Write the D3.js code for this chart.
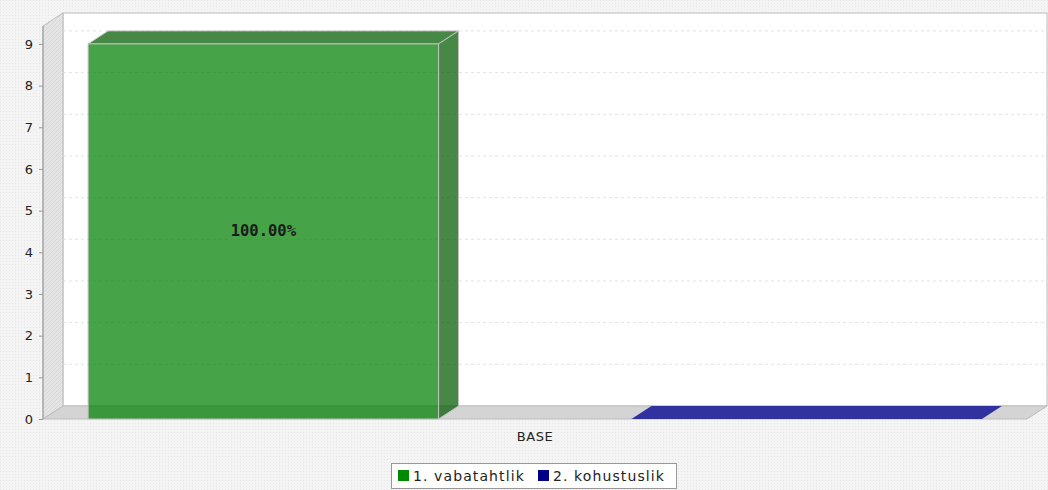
<!DOCTYPE html>
<html>
<head>
<meta charset="utf-8">
<script src="https://cdn.jsdelivr.net/npm/d3@7"></script>
<style>
  body { margin: 0; background: #f3f3f3; }
  svg { display: block; }
  text { font-family: "DejaVu Sans", sans-serif; }
</style>
</head>
<body>
<div id="chart-area"></div>
<script>
// data
var categories = ["BASE"];
var seriesNames = ["1. vabatahtlik", "2. kohustuslik"];
var seriesValues = [9, 0.02];
var valueLabels = ["100.00%", ""];
var yTicks = [0, 1, 2, 3, 4, 5, 6, 7, 8, 9];
var seriesColors = ["#008a00", "#00008b"];
var frontColors = ["rgba(0,128,0,0.72)", "rgba(20,20,150,0.85)"];
var darkColors = ["rgba(0,90,0,0.72)", "rgba(20,20,150,0.85)"];

var W = 1048, H = 490;
var dx = 20, dy = -13;   // 3d offset
var pLeft = 43, pRight = 1027, pTop = 26, pBottom = 419;

var svg = d3.select("#chart-area").append("svg")
            .attr("width", W)
            .attr("height", H);

// dotted background texture
var defs = svg.append("defs");
var pat = defs.append("pattern").attr("id", "dots")
              .attr("width", 3).attr("height", 3)
              .attr("patternUnits", "userSpaceOnUse");
pat.append("rect").attr("width", 3).attr("height", 3).attr("fill", "#f4f4f4");
pat.append("rect").attr("width", 1).attr("height", 1).attr("fill", "#e8e8e8");

var hatch = defs.append("pattern").attr("id", "hatch")
                .attr("width", 4).attr("height", 4)
                .attr("patternUnits", "userSpaceOnUse");
hatch.append("rect").attr("width", 4).attr("height", 4).attr("fill", "#e4e4e4");
hatch.append("path").attr("d", "M0,4 L4,0").attr("stroke", "#d8d8d8").attr("stroke-width", 1);

svg.append("rect").attr("width", W).attr("height", H).attr("fill", "url(#dots)");

var y = d3.scaleLinear()
          .domain([0, 9.43])
          .range([pBottom, pTop]);

var x0 = d3.scaleBand()
           .domain(categories)
           .range([pLeft, pRight]);

var x1 = d3.scaleBand()
           .domain(seriesNames)
           .range([0, x0.bandwidth()])
           .paddingInner(0.355)
           .paddingOuter(0.083);

// back wall
svg.append("rect")
   .attr("x", pLeft + dx).attr("y", pTop + dy)
   .attr("width", pRight - pLeft).attr("height", pBottom - pTop)
   .attr("fill", "#ffffff").attr("stroke", "#bdbdbd");

// left wall
svg.append("path")
   .attr("d", "M" + pLeft + "," + pTop + " L" + (pLeft + dx) + "," + (pTop + dy) +
              " L" + (pLeft + dx) + "," + (pBottom + dy) + " L" + pLeft + "," + pBottom + "Z")
   .attr("fill", "url(#hatch)").attr("stroke", "#bdbdbd");

// floor
svg.append("path")
   .attr("d", "M" + pLeft + "," + pBottom + " L" + (pLeft + dx) + "," + (pBottom + dy) +
              " L" + (pRight + dx) + "," + (pBottom + dy) + " L" + pRight + "," + pBottom + "Z")
   .attr("fill", "#d4d4d4").attr("stroke", "#bdbdbd");

// gridlines on the back wall
svg.append("g").selectAll("line")
   .data(yTicks.filter((d) => d > 0))
   .enter().append("line")
   .attr("x1", pLeft + dx).attr("x2", pRight + dx)
   .attr("y1", (d) => y(d) + dy).attr("y2", (d) => y(d) + dy)
   .attr("stroke", "#dcdcdc")
   .attr("stroke-width", 0.8)
   .attr("stroke-dasharray", "3,3");

// bars
var bars = svg.append("g").selectAll("g")
              .data(seriesValues)
              .enter().append("g");

bars.each(function (v, i) {
  var g = d3.select(this);
  var bx = x0(categories[0]) + x1(seriesNames[i]);
  var bw = x1.bandwidth();
  var by = y(v);
  if (pBottom - by < 2) {
    // flat bar: only the top face is visible
    g.append("path")
     .attr("d", "M" + bx + "," + pBottom + " L" + (bx + dx) + "," + (pBottom + dy) +
                " L" + (bx + bw + dx) + "," + (pBottom + dy) + " L" + (bx + bw) + "," + pBottom + "Z")
     .attr("fill", frontColors[i]);
    return;
  }
  // top face
  g.append("path")
   .attr("d", "M" + bx + "," + by + " L" + (bx + dx) + "," + (by + dy) +
              " L" + (bx + bw + dx) + "," + (by + dy) + " L" + (bx + bw) + "," + by + "Z")
   .attr("fill", darkColors[i]).attr("stroke", "#c4c4c4").attr("stroke-width", 1);
  // side face
  g.append("path")
   .attr("d", "M" + (bx + bw) + "," + by + " L" + (bx + bw + dx) + "," + (by + dy) +
              " L" + (bx + bw + dx) + "," + (pBottom + dy) + " L" + (bx + bw) + "," + pBottom + "Z")
   .attr("fill", darkColors[i]).attr("stroke", "#c4c4c4").attr("stroke-width", 1);
  // front face
  g.append("rect")
   .attr("x", bx).attr("y", by)
   .attr("width", bw).attr("height", pBottom - by)
   .attr("fill", frontColors[i]).attr("stroke", "#c4c4c4").attr("stroke-width", 1);
  g.append("text")
   .attr("x", bx + bw / 2).attr("y", (by + pBottom) / 2 + 5)
   .attr("text-anchor", "middle")
   .style("font-family", "'DejaVu Sans Mono', monospace")
   .style("font-weight", "bold")
   .style("font-size", "15.5px")
   .attr("fill", "#1a1a1a")
   .text(valueLabels[i]);
});

// y axis
var yAxis = d3.axisLeft(y).tickValues(yTicks).tickSize(4).tickPadding(6);
var ga = svg.append("g").attr("transform", "translate(" + pLeft + ",0)").call(yAxis);
ga.select(".domain").attr("stroke", "#999").attr("d", "M0," + pTop + "V" + pBottom);
ga.selectAll(".tick line").attr("stroke", "#999");
ga.selectAll("text").style("font-size", "13px").style("font-family", "'DejaVu Sans', sans-serif").attr("fill", "#222");

// category label
svg.append("g").selectAll("text")
   .data(categories)
   .enter().append("text")
   .attr("x", (d) => x0(d) + x0.bandwidth() / 2)
   .attr("y", 441)
   .attr("text-anchor", "middle")
   .style("font-size", "13px")
   .style("letter-spacing", "0.5px")
   .attr("fill", "#222")
   .text((d) => d);

// legend
var legend = svg.append("g");
legend.append("rect")
      .attr("x", 391.5).attr("y", 463.5).attr("width", 285).attr("height", 25)
      .attr("fill", "#fff").attr("stroke", "#999");
var legX = [398, 538];
seriesNames.forEach((name, i) => {
  legend.append("rect").attr("x", legX[i]).attr("y", 470).attr("width", 11).attr("height", 11)
        .attr("fill", seriesColors[i]);
  legend.append("text").attr("x", legX[i] + 15).attr("y", 481)
        .style("font-size", "14px").style("letter-spacing", "1.1px")
        .attr("fill", "#222").text(name);
});
</script>
</body>
</html>
